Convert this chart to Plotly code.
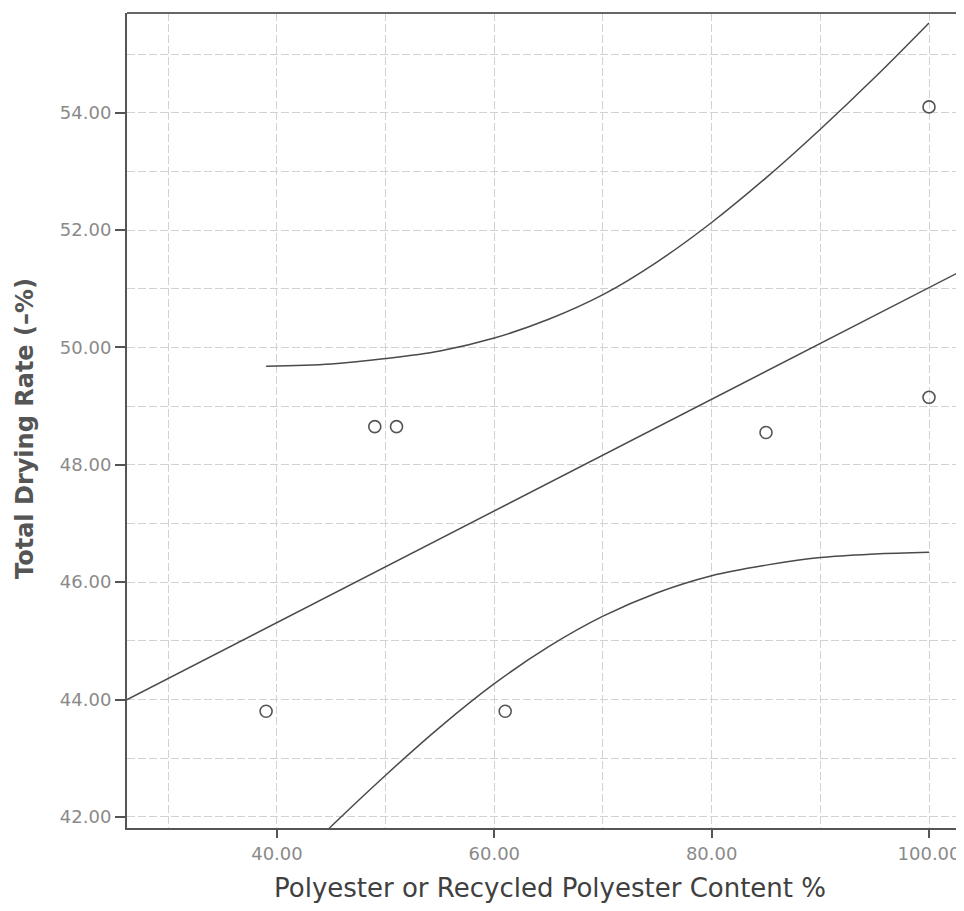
import plotly.graph_objects as go

# Observed data points
content = [39, 49, 51, 61, 85, 100, 100]
drying = [43.8, 48.65, 48.65, 43.8, 48.55, 49.15, 54.1]

# Fit line (at the plot edges)
fit_x = [26.0, 104.0]
fit_y = [43.98, 51.40]

# Confidence band curves
ci_x = [39, 45, 50, 55, 60, 65, 70, 75, 80, 85, 90, 95, 100]
ci_upper = [49.68, 49.72, 49.81, 49.94, 50.16, 50.48, 50.90, 51.46, 52.13, 52.89, 53.72, 54.60, 55.53]
ci_lower = [40.74, 41.84, 42.71, 43.53, 44.27, 44.90, 45.42, 45.82, 46.11, 46.29, 46.42, 46.48, 46.51]

x_ticks = [40, 60, 80, 100]
y_ticks = [42, 44, 46, 48, 50, 52, 54]

line_col = "#4a4a4a"
grid_col = "#d2d2d2"

fig = go.Figure()
fig.add_trace(go.Scatter(x=fit_x, y=fit_y, mode="lines",
                         line=dict(color=line_col, width=1.5), showlegend=False))
fig.add_trace(go.Scatter(x=ci_x, y=ci_upper, mode="lines", line_shape="spline",
                         line=dict(color=line_col, width=1.5), showlegend=False))
fig.add_trace(go.Scatter(x=ci_x, y=ci_lower, mode="lines", line_shape="spline",
                         line=dict(color=line_col, width=1.5), showlegend=False))
fig.add_trace(go.Scatter(x=content, y=drying, mode="markers",
                         marker=dict(symbol="circle-open", size=12, color="#555555",
                                     line=dict(color="#555555", width=1.6)),
                         showlegend=False))

tick_font = dict(family="DejaVu Sans", size=18, color="#8a8a8a")

fig.update_xaxes(range=[26.2, 103.22], tickvals=x_ticks,
                 ticktext=[f"{v:.2f}" for v in x_ticks],
                 showline=True, linecolor="#555555", linewidth=2,
                 ticks="outside", ticklen=8, tickwidth=2, tickcolor="#555555",
                 showgrid=True, gridcolor=grid_col, gridwidth=1, griddash="8px,3px",
                 minor=dict(dtick=10, tick0=30, showgrid=True, gridcolor=grid_col,
                            griddash="8px,3px", ticks=""),
                 tickfont=tick_font, zeroline=False, ticklabeloverflow="allow")
fig.update_yaxes(range=[41.81, 55.70], tickvals=y_ticks,
                 ticktext=[f"{v:.2f}" for v in y_ticks],
                 showline=True, linecolor="#555555", linewidth=2,
                 ticks="outside", ticklen=10, tickwidth=2, tickcolor="#555555",
                 showgrid=True, gridcolor=grid_col, gridwidth=1, griddash="8px,3px",
                 minor=dict(dtick=1, tick0=42, showgrid=True, gridcolor=grid_col,
                            griddash="8px,3px", ticks=""),
                 tickfont=tick_font, zeroline=False)

fig.add_shape(type="line", xref="paper", yref="paper", x0=0, x1=1, y0=1, y1=1,
              line=dict(color="#666666", width=2))

fig.add_annotation(text="<b>Total Drying Rate (–%)</b>", xref="paper", yref="paper",
                   x=-0.1219, y=0.4908, textangle=-90, showarrow=False,
                   xanchor="center", yanchor="middle",
                   font=dict(family="DejaVu Sans", size=24, color="#555555"))
fig.add_annotation(text="Polyester or Recycled Polyester Content %", xref="paper", yref="paper",
                   x=0.5054, y=-0.0736, showarrow=False,
                   xanchor="center", yanchor="middle",
                   font=dict(family="DejaVu Sans", size=26, color="#404040"))

fig.update_layout(width=956, height=903,
                  margin=dict(l=119, r=0, t=5, b=83),
                  plot_bgcolor="white", paper_bgcolor="white")

fig.write_html("out.html")
